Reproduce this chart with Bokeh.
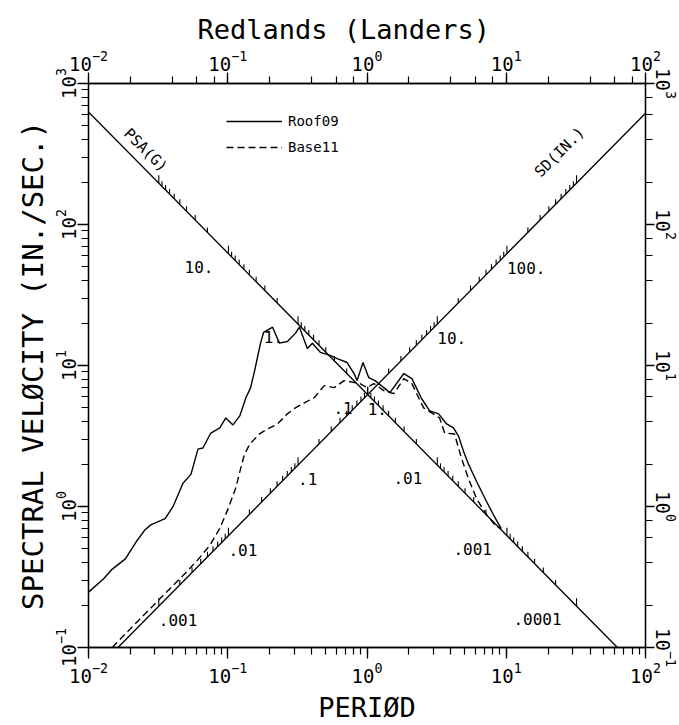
import math

from bokeh.core.properties import value
from bokeh.embed import file_html
from bokeh.models import (ColumnDataSource, Legend, LegendItem, LogAxis,
                          Range1d)
from bokeh.plotting import figure
from bokeh.resources import INLINE

# ---------------------------------------------------------------------------
# Pseudo-velocity response spectra, Redlands record of the Landers earthquake
# period in seconds, spectral velocity in in/sec
# ---------------------------------------------------------------------------
roof09_period = [0.010, 0.0128, 0.0146, 0.0184, 0.0220, 0.0255, 0.0282, 0.0355,
                 0.0405, 0.0477, 0.0544, 0.0611, 0.0663, 0.0756, 0.0877, 0.0968,
                 0.109, 0.122, 0.135, 0.146, 0.156, 0.172, 0.181, 0.210, 0.235,
                 0.268, 0.306, 0.327, 0.373, 0.405, 0.462, 0.544, 0.611, 0.72,
                 0.807, 0.849, 0.936, 1.03, 1.14, 1.32, 1.46, 1.84, 2.10, 2.47,
                 2.82, 3.27, 3.73, 4.18, 4.54, 4.93, 5.35, 6.11, 7.2, 8.07, 9.2]
roof09_sv = [0.247, 0.306, 0.355, 0.425, 0.562, 0.685, 0.744, 0.821, 1.0, 1.46,
             1.69, 2.55, 2.60, 3.32, 3.61, 4.25, 3.79, 4.39, 5.91, 6.97, 9.2,
             14.4, 17.2, 18.7, 14.4, 14.8, 16.9, 18.7, 13.2, 14.4, 12.4, 11.8,
             11.2, 10.5, 8.77, 7.81, 10.5, 8.2, 7.81, 6.97, 6.42, 8.77, 8.07,
             5.81, 4.77, 4.54, 3.85, 3.61, 3.16, 2.47, 2.0, 1.51, 1.09, 0.877,
             0.697]

base11_period = [0.0148, 0.0187, 0.0228, 0.0332, 0.0418, 0.0501, 0.0611, 0.0744,
                 0.0877, 0.100, 0.114, 0.124, 0.132, 0.144, 0.169, 0.193, 0.228,
                 0.268, 0.306, 0.355, 0.418, 0.493, 0.581, 0.685, 0.891, 1.0,
                 1.12, 1.32, 1.56, 1.84, 2.10, 2.55, 3.32, 3.61, 4.25, 4.77,
                 5.35, 6.11, 7.2, 8.49, 9.2]
base11_sv = [0.100, 0.127, 0.155, 0.226, 0.284, 0.34, 0.42, 0.53, 0.70, 0.95,
             1.35, 1.87, 2.35, 2.77, 3.27, 3.55, 3.85, 4.54, 5.01, 5.44, 5.91,
             7.2, 6.97, 7.81, 7.44, 6.97, 7.44, 6.63, 6.31, 8.07, 7.44, 5.01,
             4.25, 3.32, 3.27, 2.2, 1.58, 1.14, 0.877, 0.72, 0.70]

# Tripartite guide lines: one line of constant SD and one of constant PSA
G_IN = 386.1          # in/sec^2 per g
SD_LINE = 1.0         # inches
PSA_LINE = 0.1        # g
psa_label_values = [10, 1, 0.1, 0.01, 0.001, 0.0001]
psa_label_text = ["10.", "1.", ".1", ".01", ".001", ".0001"]
sd_label_values = [0.001, 0.01, 0.1, 1, 10, 100]
sd_label_text = [".001", ".01", ".1", "1.", "10.", "100."]
psa_tick_decades = range(-4, 2)   # 1e-4 ... 100 g
sd_tick_decades = range(-3, 3)    # 1e-3 ... 1000 in

FONT = "DejaVu Sans Mono"
W, H = 679, 725
LEFT, RIGHT, TOP, BOTTOM = 88, 34, 83, 77
FRAME_H = H - TOP - BOTTOM
PX_PER_DECADE = FRAME_H / 4.0
TWO_PI = 2 * math.pi

p = figure(width=W, height=H, x_axis_type="log", y_axis_type="log",
           x_range=Range1d(0.01, 100), y_range=Range1d(0.1, 1000),
           output_backend="svg", toolbar_location=None,
           min_border_left=LEFT, min_border_right=RIGHT,
           min_border_top=TOP, min_border_bottom=BOTTOM)
p.background_fill_color = "white"
p.border_fill_color = "white"
p.outline_line_color = "black"
p.outline_line_width = 1.3
p.xgrid.visible = False
p.ygrid.visible = False

p.title.text = "Redlands (Landers)"
p.title.align = "left"
p.title.offset = 109
p.title.text_font = FONT
p.title.text_font_size = "27px"
p.title.text_font_style = "normal"
p.title.text_color = "black"
p.title.standoff = 4


def style_axis(ax, vertical, standoff=3):
    ax.axis_line_color = "black"
    ax.axis_line_width = 1.3
    ax.major_tick_line_width = 1.3
    ax.minor_tick_line_width = 1.2
    ax.major_tick_in = 0
    ax.major_tick_out = 11
    ax.minor_tick_in = 0
    ax.minor_tick_out = 7
    ax.major_label_text_font = FONT
    ax.major_label_text_font_size = "19px"
    ax.major_label_text_color = "black"
    ax.major_label_standoff = standoff
    ax.axis_label_text_font = FONT
    ax.axis_label_text_font_style = "normal"
    ax.axis_label_text_color = "black"
    if vertical:
        ax.major_label_orientation = "vertical"


bottom_ax = p.below[0]
left_ax = p.left[0]
style_axis(bottom_ax, False)
style_axis(left_ax, True, standoff=2)
top_ax = LogAxis()
right_ax = LogAxis()
style_axis(top_ax, False, standoff=2)
style_axis(right_ax, True, standoff=1)
right_ax.major_tick_out = 9
p.add_layout(top_ax, "above")
p.add_layout(right_ax, "right")

bottom_ax.axis_label = "PERIØD"
bottom_ax.axis_label_text_font_size = "27px"
bottom_ax.axis_label_standoff = 6
left_ax.axis_label = "SPECTRAL VELØCITY (IN./SEC.)"
left_ax.axis_label_text_font_size = "29px"
left_ax.axis_label_standoff = 2

LW = 1.3

# --- constant-SD line (descending) with its PSA scale --------------------
sd_t0, sd_t1 = 0.01, TWO_PI * SD_LINE / 0.1
p.line([sd_t0, sd_t1], [TWO_PI * SD_LINE / sd_t0, 0.1], color="black", line_width=LW)


def on_sd_line(psa):
    t = TWO_PI * math.sqrt(SD_LINE / (psa * G_IN))
    return t, TWO_PI * SD_LINE / t


def on_psa_line(sd):
    t = TWO_PI * math.sqrt(sd / (PSA_LINE * G_IN))
    return t, PSA_LINE * G_IN * t / TWO_PI


def tick_segments(points, majors):
    x0, y0, y1 = [], [], []
    for (t, v), major in zip(points, majors):
        length = 8 if major else 5
        x0.append(t)
        y0.append(v)
        y1.append(v * 10 ** (length / PX_PER_DECADE))
    return dict(x0=x0, y0=y0, x1=x0, y1=y1)


psa_vals, psa_major = [], []
for n in psa_tick_decades:
    for k in range(1, 10):
        psa_vals.append(k * 10.0 ** n)
        psa_major.append(k == 1)
psa_vals.append(100.0)
psa_major.append(True)
seg = tick_segments([on_sd_line(a) for a in psa_vals], psa_major)
p.segment("x0", "y0", "x1", "y1", source=ColumnDataSource(seg), color="black", line_width=1.1)

pts = [on_sd_line(a) for a in psa_label_values]
p.text(x=[q[0] for q in pts], y=[q[1] for q in pts], text=psa_label_text,
       x_offset=-15, y_offset=13, text_align="right", text_baseline="middle",
       text_font=value(FONT), text_font_size=value("16px"), text_color="black")

# --- constant-PSA line (ascending) with its SD scale ---------------------
pa_t0, pa_t1 = 0.1 * TWO_PI / (PSA_LINE * G_IN), 100.0
p.line([pa_t0, pa_t1], [0.1, PSA_LINE * G_IN * pa_t1 / TWO_PI], color="black", line_width=LW)

sd_vals, sd_major = [], []
for n in sd_tick_decades:
    for k in range(1, 10):
        sd_vals.append(k * 10.0 ** n)
        sd_major.append(k == 1)
sd_vals.append(1000.0)
sd_major.append(True)
seg = tick_segments([on_psa_line(d) for d in sd_vals], sd_major)
p.segment("x0", "y0", "x1", "y1", source=ColumnDataSource(seg), color="black", line_width=1.1)

pts = [on_psa_line(d) for d in sd_label_values]
p.text(x=[q[0] for q in pts], y=[q[1] for q in pts], text=sd_label_text,
       x_offset=0, y_offset=14, text_align="left", text_baseline="middle",
       text_font=value(FONT), text_font_size=value("16px"), text_color="black")

# scale names written along the guide lines
t, v = on_sd_line(100.0)
p.text(x=[t], y=[v], text=["PSA(G)"], angle=-math.pi / 4, x_offset=-13, y_offset=-33,
       text_align="center", text_baseline="middle",
       text_font=value(FONT), text_font_size=value("15px"), text_color="black")
t, v = on_psa_line(1000.0)
p.text(x=[t], y=[v], text=["SD(IN.)"], angle=math.pi / 4, x_offset=-17, y_offset=-31,
       text_align="center", text_baseline="middle",
       text_font=value(FONT), text_font_size=value("15px"), text_color="black")

# --- spectra ---------------------------------------------------------------
r_roof = p.line(roof09_period, roof09_sv, color="black", line_width=1.4)
r_base = p.line(base11_period, base11_sv, color="black", line_width=1.4, line_dash="7 4")

legend = Legend(items=[LegendItem(label="Roof09", renderers=[r_roof]),
                       LegendItem(label="Base11", renderers=[r_base])],
                location=(138, FRAME_H - 75), padding=0, margin=0,
                border_line_alpha=0, background_fill_alpha=0,
                glyph_width=56, glyph_height=20, label_height=20,
                label_standoff=6, spacing=6,
                label_text_font=FONT, label_text_font_size="14px",
                label_text_color="black")
p.add_layout(legend)

open("out.html", "w").write(file_html(p, INLINE))
